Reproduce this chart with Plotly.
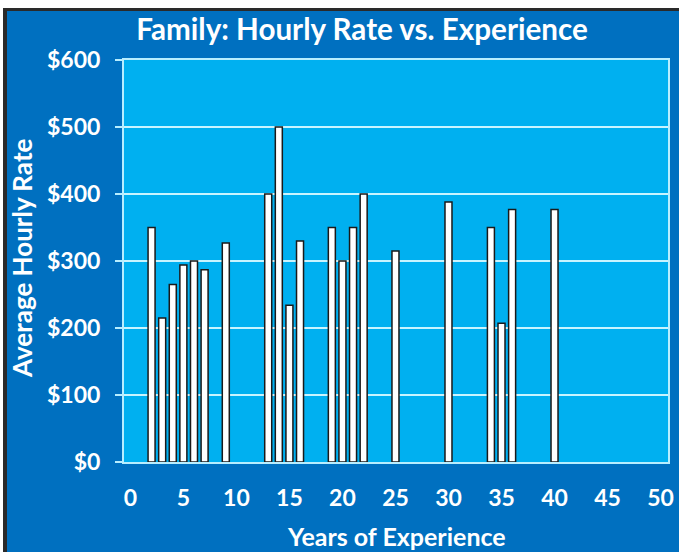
import plotly.graph_objects as go

years = [2, 3, 4, 5, 6, 7, 9, 13, 14, 15, 16, 19, 20, 21, 22, 25, 30, 34, 35, 36, 40]
rates = [350, 215, 265, 294, 300, 287, 327, 400, 500, 234, 330, 350, 300, 350, 400, 315, 388, 350, 207, 377, 377]
x_ticks = [0, 5, 10, 15, 20, 25, 30, 35, 40, 45, 50]
y_ticks = [0, 100, 200, 300, 400, 500, 600]
y_labels = ["$" + str(v) for v in y_ticks]

FONT = "Lato"
W, H = 679, 552
L, R, T, B = 124, 11, 60, 90
pw, ph = W - L - R, H - T - B

def px(x):
    return (x - L) / pw

def py(y):
    return (H - B - y) / ph

fig = go.Figure()
fig.add_trace(go.Bar(
    x=years, y=rates,
    marker=dict(color="white", line=dict(color="#1a1a1a", width=1.5)),
    width=0.66,
))

fig.update_layout(
    width=W, height=H,
    margin=dict(l=L, r=R, t=T, b=B),
    paper_bgcolor="#0070C0",
    plot_bgcolor="#00B0F0",
    showlegend=False,
    font=dict(family=FONT, color="white"),
    title=dict(text="<b>Family: Hourly Rate vs. Experience</b>",
               x=px(362), xref="paper", xanchor="center",
               y=1 - 30 / H, yref="container", yanchor="middle",
               font=dict(size=29.6, color="white", family=FONT)),
    xaxis=dict(range=[-0.6, 50.7], tickvals=x_ticks, ticktext=["<b>%d</b>" % v for v in x_ticks],
               showgrid=False, zeroline=False, showline=True, linecolor="#B8EEFF", linewidth=2,
               mirror=True, ticks="", ticklabelstandoff=14, automargin=False,
               tickfont=dict(size=23, color="white", family=FONT)),
    yaxis=dict(range=[0, 600], tickvals=y_ticks, ticktext=["<b>%s</b>" % s for s in y_labels],
               showgrid=True, gridcolor="#C8F4FF", gridwidth=2, zeroline=False,
               showline=True, linecolor="#B8EEFF", linewidth=2, mirror=True,
               ticks="outside", ticklen=7, tickcolor="#B8EEFF", tickwidth=2,
               ticklabelstandoff=10, automargin=False,
               tickfont=dict(size=23, color="white", family=FONT)),
    annotations=[
        dict(text="<b>Years of Experience</b>", x=px(396), y=py(536), xref="paper", yref="paper",
             showarrow=False, xanchor="center", yanchor="middle",
             font=dict(size=25, color="white", family=FONT)),
        dict(text="<b>Average Hourly Rate</b>", x=px(22), y=py(259), xref="paper", yref="paper",
             showarrow=False, xanchor="center", yanchor="middle", textangle=-90,
             font=dict(size=26, color="white", family=FONT)),
    ],
    shapes=[
        dict(type="rect", xref="paper", yref="paper", x0=px(0), x1=px(W), y0=py(0), y1=py(8),
             fillcolor="white", line=dict(width=0), layer="below"),
        dict(type="rect", xref="paper", yref="paper", x0=px(0), x1=px(3), y0=py(0), y1=py(H),
             fillcolor="white", line=dict(width=0), layer="below"),
        dict(type="rect", xref="paper", yref="paper", x0=px(3), x1=px(W), y0=py(8), y1=py(11),
             fillcolor="#2a2a2a", line=dict(width=0), layer="below"),
        dict(type="rect", xref="paper", yref="paper", x0=px(3), x1=px(7), y0=py(8), y1=py(H),
             fillcolor="#2a2a2a", line=dict(width=0), layer="below"),
    ],
)

fig.write_html("out.html", config={"displayModeBar": False},
               post_script="document.body.style.margin='0px';document.body.style.overflow='hidden';")
